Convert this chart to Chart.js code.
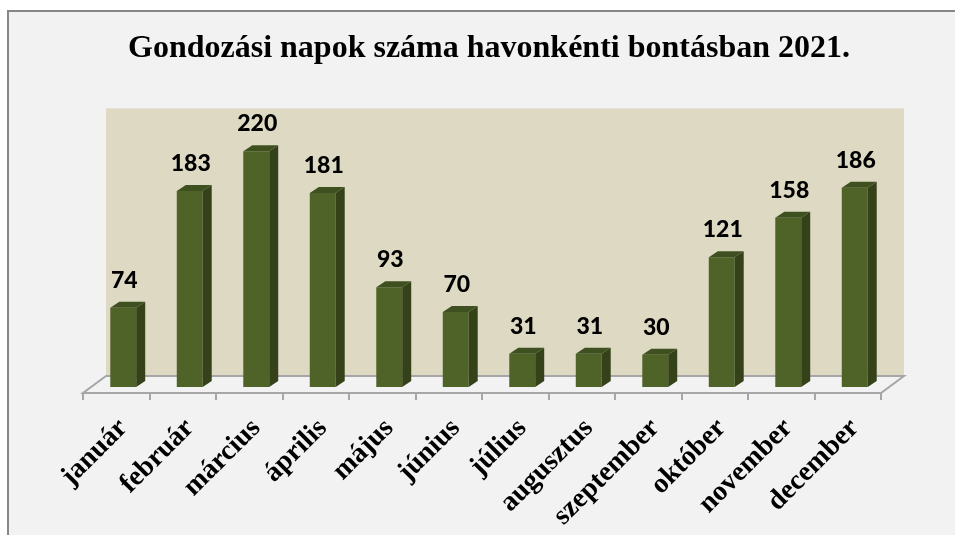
<!DOCTYPE html>
<html>
<head>
<meta charset="utf-8">
<script src="https://cdn.jsdelivr.net/npm/chart.js@4"></script>
<style>
  html, body { margin: 0; padding: 0; background: #ffffff; }
  #wrap { width: 955px; height: 535px; }
</style>
</head>
<body>
<div id="wrap"><canvas id="BarChart" width="955" height="535"></canvas></div>
<script>
// data
let months = ['január', 'február', 'március', 'április', 'május', 'június',
              'július', 'augusztus', 'szeptember', 'október', 'november', 'december'];
let napok = [74, 183, 220, 181, 93, 70, 31, 31, 30, 121, 158, 186];

// 3d look of the excel chart
const DX = 9, DY = 6;          // bar depth
const FDX = 23, FDY = 17;      // floor depth
const SHIFT = 7;               // bars sit a bit back from the floor edge

let scenery = {
    id: 'scenery',
    beforeDraw(chart) {
        const ctx = chart.ctx;
        const a = chart.chartArea;
        ctx.save();
        // outer frame
        ctx.fillStyle = '#f2f2f2';
        ctx.fillRect(8, 11, chart.width - 8, chart.height - 11);
        ctx.strokeStyle = '#878787';
        ctx.lineWidth = 2;
        ctx.beginPath();
        ctx.moveTo(8, chart.height);
        ctx.lineTo(8, 11);
        ctx.lineTo(chart.width, 11);
        ctx.stroke();

        const fx0 = a.left - SHIFT, fx1 = a.right - SHIFT;
        const fy = a.bottom + 6;
        // back wall
        ctx.fillStyle = '#ddd9c3';
        ctx.fillRect(fx0 + FDX, a.top, fx1 - fx0, fy - FDY - a.top);
        // floor
        ctx.fillStyle = '#f2f2f2';
        ctx.strokeStyle = '#a6a6a6';
        ctx.lineWidth = 2;
        ctx.beginPath();
        ctx.moveTo(fx0, fy);
        ctx.lineTo(fx1, fy);
        ctx.lineTo(fx1 + FDX, fy - FDY);
        ctx.lineTo(fx0 + FDX, fy - FDY);
        ctx.closePath();
        ctx.fill();
        ctx.stroke();
        // tick marks between categories
        const step = (fx1 - fx0) / months.length;
        ctx.beginPath();
        for (let i = 0; i <= months.length; i++) {
            const x = Math.round(fx0 + i * step);
            ctx.moveTo(x, fy);
            ctx.lineTo(x, fy + 7);
        }
        ctx.stroke();
        ctx.restore();
    },
    afterDatasetsDraw(chart) {
        const ctx = chart.ctx;
        const bars = chart.getDatasetMeta(0).data;
        ctx.save();
        bars.forEach((bar, i) => {
            const x0 = bar.x - bar.width / 2, x1 = bar.x + bar.width / 2;
            const top = bar.y, bottom = bar.base;
            // side
            ctx.fillStyle = '#344119';
            ctx.beginPath();
            ctx.moveTo(x1, top);
            ctx.lineTo(x1 + DX, top - DY);
            ctx.lineTo(x1 + DX, bottom - DY);
            ctx.lineTo(x1, bottom);
            ctx.closePath();
            ctx.fill();
            // top
            ctx.fillStyle = '#3f5020';
            ctx.beginPath();
            ctx.moveTo(x0, top);
            ctx.lineTo(x0 + DX, top - DY);
            ctx.lineTo(x1 + DX, top - DY);
            ctx.lineTo(x1, top);
            ctx.closePath();
            ctx.fill();
            // value
            ctx.fillStyle = '#000000';
            ctx.font = '900 23px Lato';
            ctx.textAlign = 'center';
            ctx.textBaseline = 'alphabetic';
            ctx.fillText(napok[i], bar.x + 1, top - 20);
        });
        ctx.restore();
    }
};

let myChart = document.getElementById('BarChart').getContext('2d');

let napokChart = new Chart(myChart, {
    type: 'bar',
    data: {
        labels: months,
        datasets: [{
            label: 'Gondozási napok',
            data: napok,
            backgroundColor: '#4f6228',
            borderWidth: 0,
            barPercentage: 0.39,
            categoryPercentage: 1.0
        }]
    },
    options: {
        responsive: false,
        animation: false,
        layout: { padding: { left: 90, right: 67, top: 0, bottom: 0 } },
        plugins: {
            legend: { display: false },
            tooltip: { enabled: false },
            title: {
                display: true,
                text: 'Gondozási napok száma havonkénti bontásban 2021.',
                color: '#000000',
                font: { family: 'Liberation Serif', size: 32, weight: 'bold' },
                padding: { top: 30, bottom: 40 }
            }
        },
        scales: {
            x: {
                grid: { display: false },
                border: { display: false },
                ticks: {
                    color: '#000000',
                    font: { family: 'Liberation Serif', size: 28, weight: 'bold' },
                    autoSkip: false,
                    minRotation: 45,
                    maxRotation: 45,
                    padding: 17
                },
                afterFit(scale) { scale.height = 148; }
            },
            y: {
                display: false,
                min: 0,
                max: 260
            }
        }
    },
    plugins: [scenery]
});
</script>
</body>
</html>
